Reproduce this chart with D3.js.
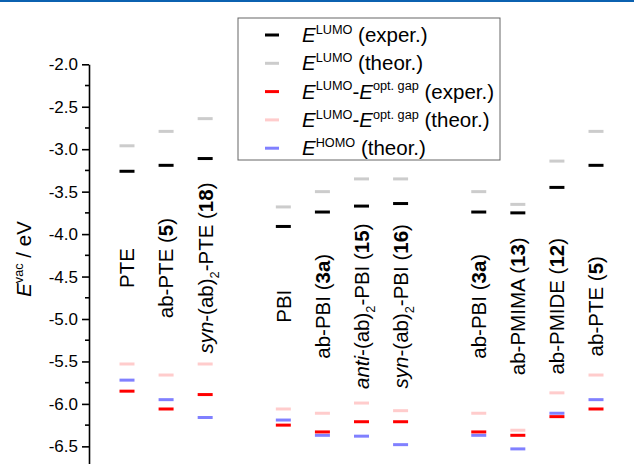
<!DOCTYPE html>
<html>
<head>
<meta charset="utf-8">
<script src="https://cdn.jsdelivr.net/npm/d3@7"></script>
<style>
  body { margin: 0; background: #fff; }
  svg { display: block; font-family: "Liberation Sans", Arial, sans-serif; }
</style>
</head>
<body>
<script>
// category labels, "" = empty slot between groups
const categories = [
    "PTE", "ab-PTE (<b>5</b>)", "<i>syn</i>-(ab)<sub>2</sub>-PTE (<b>18</b>)", "",
    "PBI", "ab-PBI (<b>3a</b>)", "<i>anti</i>-(ab)<sub>2</sub>-PBI (<b>15</b>)", "<i>syn</i>-(ab)<sub>2</sub>-PBI (<b>16</b>)", "",
    "ab-PBI (<b>3a</b>)", "ab-PMIMA (<b>13</b>)", "ab-PMIDE (<b>12</b>)", "ab-PTE (<b>5</b>)"
];
const lumoExp  = [-3.26, -3.19, -3.11, null, -3.91, -3.74, -3.67, -3.64, null, -3.74, -3.75, -3.45, -3.19];
const lumoTheo = [-2.96, -2.79, -2.64, null, -3.68, -3.50, -3.35, -3.35, null, -3.50, -3.65, -3.14, -2.79];
const gapExp   = [-5.85, -6.06, -5.89, null, -6.25, -6.33, -6.21, -6.21, null, -6.33, -6.37, -6.15, -6.06];
const gapTheo  = [-5.53, -5.66, -5.53, null, -6.06, -6.11, -5.99, -6.08, null, -6.11, -6.31, -5.87, -5.66];
const homoTheo = [-5.72, -5.95, -6.16, null, -6.19, -6.37, -6.38, -6.48, null, -6.37, -6.53, -6.11, -5.95];
const yTicks = [-2.0, -2.5, -3.0, -3.5, -4.0, -4.5, -5.0, -5.5, -6.0, -6.5];

const COLORS = {
    LUMO_EXP: "#000000",
    LUMO_THEO: "#cccccc",
    GAP_EXP: "#ff0000",
    GAP_THEO: "#ffcccc",
    HOMO_THEO: "#8080ff",
    HEADER: "#0b61b0"
};

// draw order matters where marks overlap
const series = [
    {values: lumoTheo, color: COLORS.LUMO_THEO, label: "<i>E</i><sup>LUMO</sup> (theor.)"},
    {values: lumoExp, color: COLORS.LUMO_EXP, label: "<i>E</i><sup>LUMO</sup> (exper.)"},
    {values: gapTheo, color: COLORS.GAP_THEO, label: "<i>E</i><sup>LUMO</sup>-<i>E</i><sup>opt. gap</sup> (theor.)"},
    {values: homoTheo, color: COLORS.HOMO_THEO, label: "<i>E</i><sup>HOMO</sup> (theor.)"},
    {values: gapExp, color: COLORS.GAP_EXP, label: "<i>E</i><sup>LUMO</sup>-<i>E</i><sup>opt. gap</sup> (exper.)"}
];
const legendOrder = [1, 0, 4, 2, 3];

const width = 634, height = 464;
const svg = d3.select("body").append("svg")
    .attr("width", width)
    .attr("height", height);

// fill a text element with tspans from a tiny <i>/<b>/<sub>/<sup> markup
function richText(sel, markup, fs) {
    const parts = markup.split(/(<\/?(?:i|b|sub|sup)>)/).filter(s => s !== "");
    let italic = false, bold = false, shift = 0;
    let pendingDy = 0;
    parts.forEach(p => {
        if (p === "<i>") italic = true;
        else if (p === "</i>") italic = false;
        else if (p === "<b>") bold = true;
        else if (p === "</b>") bold = false;
        else if (p === "<sub>") { shift = 0.3; pendingDy += 0.3 * fs; }
        else if (p === "<sup>") { shift = -0.4; pendingDy += -0.4 * fs; }
        else if (p === "</sub>" || p === "</sup>") { pendingDy += -shift * fs; shift = 0; }
        else {
            const t = sel.append("tspan").text(p);
            if (pendingDy !== 0) t.attr("dy", pendingDy);
            pendingDy = 0;
            if (italic) t.attr("font-style", "italic");
            if (bold) t.attr("font-weight", "bold");
            if (shift !== 0) t.attr("font-size", fs * 0.62);
        }
    });
}

// header rule
svg.append("rect")
    .attr("x", 0).attr("y", 0)
    .attr("width", width).attr("height", 2)
    .attr("fill", COLORS.HEADER);

const y = d3.scaleLinear().domain([-2, -7]).range([64.3, 488.8]);
const x = d3.scalePoint().domain(d3.range(categories.length)).range([127, 596]);
const axisX = 89;

// y axis
const gAxis = svg.append("g").attr("transform", `translate(${axisX},0)`);
gAxis.call(d3.axisLeft(y).tickValues(yTicks).tickFormat(d => d.toFixed(1)).tickSize(7).tickSizeOuter(0).tickPadding(4));
gAxis.select(".domain").attr("stroke-width", 1.6);
gAxis.selectAll(".tick line").attr("stroke-width", 1.6);
gAxis.selectAll(".tick text").attr("font-size", 17).attr("fill", "#000")
    .attr("font-family", "Liberation Sans, Arial, sans-serif");
gAxis.selectAll(".minor")
    .data(yTicks.map(v => v - 0.25))
    .join("line")
    .attr("class", "minor")
    .attr("x1", -4).attr("x2", 0)
    .attr("y1", d => y(d)).attr("y2", d => y(d))
    .attr("stroke", "#000").attr("stroke-width", 1.6);

// y label
const yLab = svg.append("text")
    .attr("transform", `translate(31,259) rotate(-90)`)
    .attr("text-anchor", "middle")
    .attr("font-size", 20.5);
richText(yLab, "<i>E</i><sup>vac</sup> / eV", 20.5);

// level marks
const barW = 15;
series.forEach(s => {
    svg.append("g").selectAll("line")
        .data(s.values.map((v, i) => ({v, i})).filter(d => d.v !== null))
        .join("line")
        .attr("x1", d => x(d.i) - barW / 2)
        .attr("x2", d => x(d.i) + barW / 2)
        .attr("y1", d => y(d.v))
        .attr("y2", d => y(d.v))
        .attr("stroke", s.color)
        .attr("stroke-width", 3);
});

// category labels (rotated)
const labFs = 20.5;
categories.forEach((c, i) => {
    if (!c) return;
    const cy = i < 3 ? y(-4.40) : y(-4.85);
    const t = svg.append("text")
        .attr("transform", `translate(${x(i)},${cy}) rotate(-90)`)
        .attr("text-anchor", "middle")
        .attr("dy", "0.36em")
        .attr("font-size", labFs);
    richText(t, c, labFs);
});

// legend
const lg = svg.append("g").attr("transform", "translate(238,18)");
lg.append("rect")
    .attr("width", 262).attr("height", 142)
    .attr("fill", "#fff")
    .attr("stroke", "#666").attr("stroke-width", 1);
legendOrder.forEach((si, k) => {
    const s = series[si];
    const ry = 17 + k * 28.3;
    lg.append("line")
        .attr("x1", 27).attr("x2", 41)
        .attr("y1", ry).attr("y2", ry)
        .attr("stroke", s.color).attr("stroke-width", 3);
    const t = lg.append("text")
        .attr("x", 64).attr("y", ry + 7)
        .attr("font-size", 20.5);
    richText(t, s.label, 20.5);
});
</script>
</body>
</html>
